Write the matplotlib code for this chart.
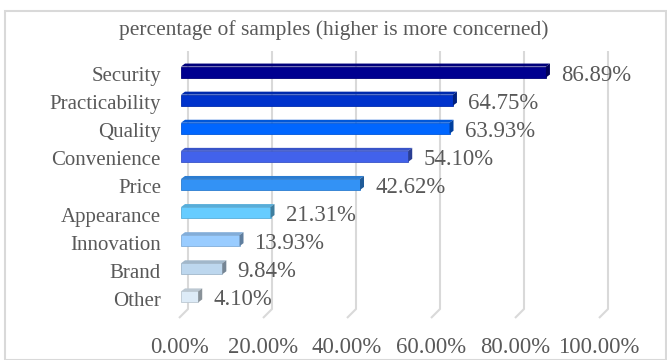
import matplotlib
matplotlib.use("Agg")
import matplotlib.pyplot as plt
from matplotlib.patches import Polygon, Rectangle
from matplotlib.transforms import offset_copy
from matplotlib.colors import to_rgb

# Survey data: share of samples concerned about each aspect (percent)
categories = ["Security", "Practicability", "Quality", "Convenience", "Price",
              "Appearance", "Innovation", "Brand", "Other"]
values = [86.89, 64.75, 63.93, 54.10, 42.62, 21.31, 13.93, 9.84, 4.10]
bar_colors = ["#000090", "#0033CC", "#0066FF", "#4262EB", "#3392F5",
              "#66CCFF", "#99CCFF", "#BDD7EE", "#DDEBF7"]
x_ticks = [0, 20, 40, 60, 80, 100]
title = "percentage of samples (higher is more concerned)"

FONT = "Liberation Serif"
TEXT = "#595959"
GRID = "#D9D9D9"

W, H = 667, 360
fig = plt.figure(figsize=(W / 100, H / 100), dpi=100)
fig.patch.set_facecolor("white")

ax_l, ax_b, ax_w, ax_h = 179, 42, 420, 258
ax = fig.add_axes([ax_l / W, ax_b / H, ax_w / W, ax_h / H])
ylo, yhi = -0.68, 8.5
ax.set_xlim(0, 100)
ax.set_ylim(ylo, yhi)
for s in ax.spines.values():
    s.set_visible(False)
ax.set_facecolor("none")

px_x = ax_w / 100.0           # pixels per percent
px_y = ax_h / (yhi - ylo)     # pixels per category step

# back-wall depth of the pseudo-3D plot area
DX, DY = 9 / px_x, 9 / px_y
for t in x_ticks:
    ax.plot([t, t + DX, t + DX], [ylo, ylo + DY, yhi + DY],
            color=GRID, lw=1.5, clip_on=False, zorder=1, solid_capstyle="butt")

# bars: front face + top and side faces
ypos = list(range(len(categories)))[::-1]
bh = 11 / px_y
ddx, ddy = 4 / px_x, 3 / px_y
btr = offset_copy(ax.transData, fig=fig, x=2, y=2, units="dots")


def shade(c, f):
    r, g, b = to_rgb(c)
    return (r * f, g * f, b * f)


for y, v, c in zip(ypos, values, bar_colors):
    ax.barh(y, v, height=bh, color=c, edgecolor=shade(c, 0.85), lw=0.6,
            transform=btr, zorder=3)
    top = Polygon([(0, y + bh / 2), (v, y + bh / 2), (v + ddx, y + bh / 2 + ddy),
                   (ddx, y + bh / 2 + ddy)], closed=True, facecolor=shade(c, 0.85),
                  edgecolor="none", transform=btr, zorder=3)
    side = Polygon([(v, y - bh / 2), (v + ddx, y - bh / 2 + ddy),
                    (v + ddx, y + bh / 2 + ddy), (v, y + bh / 2)], closed=True,
                   facecolor=shade(c, 0.62), edgecolor="none", transform=btr, zorder=3)
    ax.add_patch(top)
    ax.add_patch(side)
    ax.annotate(f"{v:.2f}%", xy=(v, y), xytext=(17, -1), textcoords="offset pixels",
                ha="left", va="center", fontsize=16.4, family=FONT, color=TEXT,
                annotation_clip=False)

ax.set_yticks(ypos)
ax.set_yticklabels(categories, family=FONT, fontsize=15, color=TEXT)
ax.set_xticks(x_ticks)
ax.set_xticklabels([f"{t:.2f}%" for t in x_ticks], family=FONT, fontsize=16.4,
                   color=TEXT)
ax.tick_params(axis="y", length=0, pad=13)
ax.tick_params(axis="x", length=0, pad=14)

fig.text(0.5, 1 - 30 / H, title, ha="center", va="center", family=FONT,
         fontsize=15.5, color=TEXT)

# chart-area border
fig.add_artist(Rectangle((4.5 / W, 0.5 / H), (W - 6) / W, (H - 11) / H,
                         transform=fig.transFigure, fill=False, edgecolor=GRID,
                         lw=1.5))

fig.savefig("out.png", dpi=100)
